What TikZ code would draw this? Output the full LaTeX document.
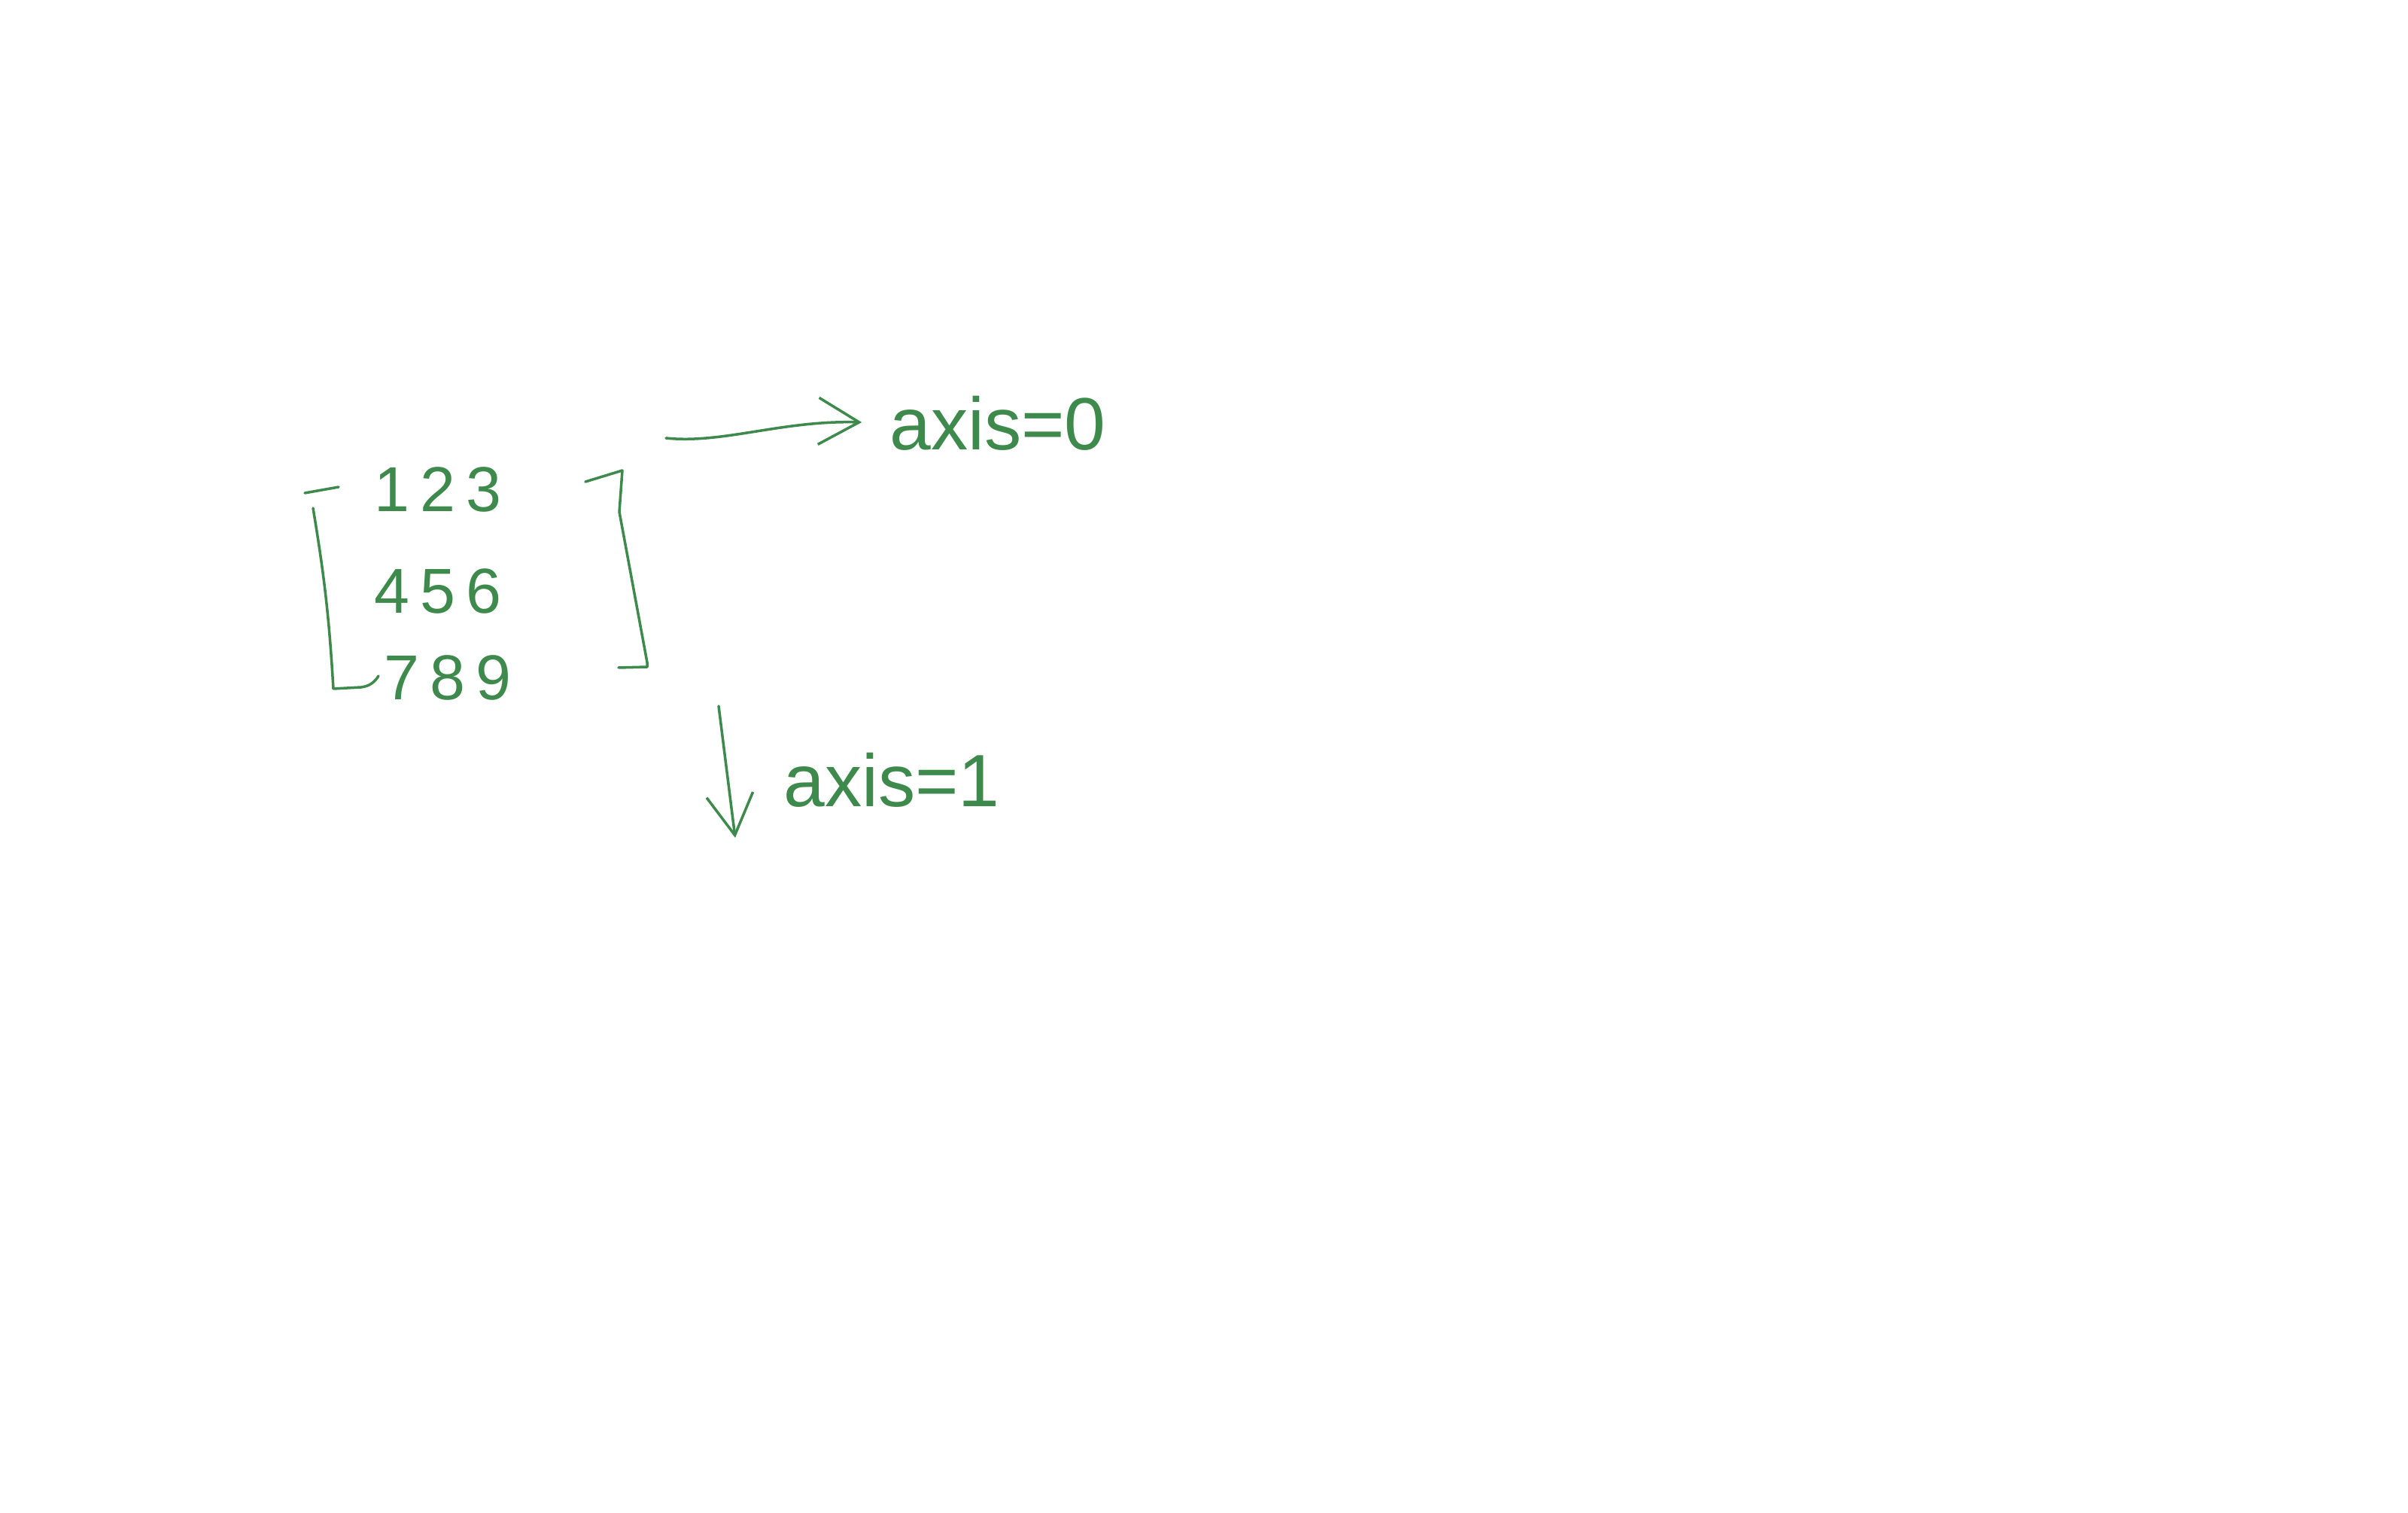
\documentclass[tikz,border=0pt]{standalone}
\usepackage{fontspec}
\setmainfont{Liberation Sans}
\usetikzlibrary{arrows.meta}
\definecolor{inkgreen}{RGB}{62,138,76}
\tikzset{
  ink/.style={draw=inkgreen, line width=1pt, line cap=round, line join=round},
  inktext/.style={text=inkgreen, font=\fontsize{24}{28}\selectfont, inner sep=1pt},
  bigtext/.style={inktext, font=\fontsize{28}{32}\selectfont},
  barb/.style={-{Straight Barb[length=5.4mm,width=6.2mm]}}
}

\begin{document}
\begin{tikzpicture}[y=-1cm]
      \useasboundingbox (0, 0) rectangle (32, 20.1);

      \begin{scope}
        \node [inktext] (row1) at (5.82, 6.50) {1\,2\,3};
        \node [inktext] (row2) at (5.82, 7.85) {4\,5\,6};
        \node [inktext] (row3) at (5.95, 9.00) {7\,8\,9};

        \draw [ink] (4.05, 6.55) -- (4.50, 6.47);
        \draw [ink] (4.16, 6.75) to [bend left=3] (4.43, 9.15) -- (4.80, 9.13) to [bend right=25] (5.03, 8.98);
        \draw [ink] (7.78, 6.40) -- (8.27, 6.25) -- (8.23, 6.80) -- (8.60, 8.80) -- (8.60, 8.86) -- (8.22, 8.87);
      \end{scope}

      \node [bigtext] (axis0) at (13.26, 5.62) {axis=0};
      \coordinate (a0from) at (8.85, 5.82);
      \draw [ink, barb, shorten >=3.3mm] (a0from) .. controls (9.60, 5.90) and (10.40, 5.58) .. (axis0.west);

      \node [bigtext] (axis1) at (11.85, 10.36) {axis=1};
      \coordinate (a1from) at (9.55, 9.38);
      \coordinate (a1to) at (9.77, 11.13);
      \draw [ink, barb] (a1from) -- (a1to);
    \end{tikzpicture}
\end{document}
